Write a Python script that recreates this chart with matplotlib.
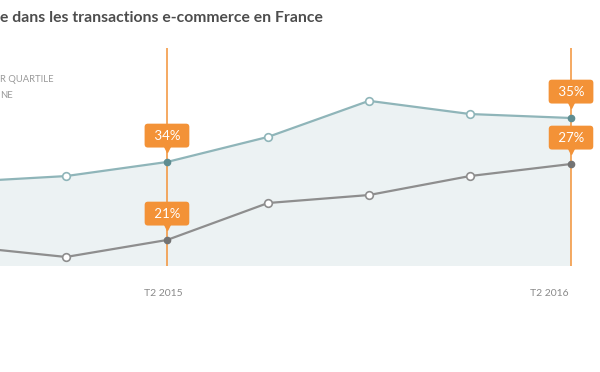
import matplotlib
matplotlib.use("Agg")
import matplotlib.pyplot as plt
from matplotlib.transforms import offset_copy, blended_transform_factory

# ── Data (quarters from T4 2014 to T2 2016, picture is cropped on the left) ──
quarters   = ["T4 2014", "T1 2015", "T2 2015", "T3 2015", "T4 2015", "T1 2016", "T2 2016"]
upper_vals = [33.55, 33.68, 34.0, 34.57, 35.39, 35.09, 35.0]   # 3e quartile
median_vals = [20.49, 19.66, 21.0, 23.92, 24.55, 26.05, 27.0]  # médiane
highlight_idx = [2, 6]
tick_labels = ["T2 2015", "T2 2016"]
upper_labels = ["34%", "35%"]
median_labels = ["21%", "27%"]

# ── Style ────────────────────────────────────────────────────────────────────
ORANGE   = "#f39237"
FILL     = "#ecf2f3"
C_UPPER  = "#8fb5b9"
C_UPPER_D = "#5f8d91"
C_MED    = "#8e8e8e"
C_MED_D  = "#737373"
plt.rcParams["font.family"] = ["Lato", "DejaVu Sans"]

fig = plt.figure(figsize=(6, 3.72), dpi=100)
ax = fig.add_axes([0, 1 - 266 / 372, 1, 218 / 372])
ax2 = ax.twinx()

x = list(range(len(quarters)))
for a in (ax, ax2):
    a.set_xlim(0.347, 6.287)
    a.axis("off")
ax.set_ylim(31.636, 36.591)
ax2.set_ylim(18.947, 36.158)

# area under the upper line
ax.fill_between(x, upper_vals, 31.636, color=FILL, lw=0, zorder=0)

for i in highlight_idx:
    ax.axvline(i, color=ORANGE, lw=1.1, zorder=1)

def draw_series(a, vals, col, col_dark):
    a.plot(x, vals, color=col, lw=1.6, zorder=2)
    plain = [i for i in x if i not in highlight_idx]
    a.plot(plain, [vals[i] for i in plain], "o", ms=5.5, mfc="white",
           mec=col, mew=1.2, zorder=3, ls="none")
    a.plot(highlight_idx, [vals[i] for i in highlight_idx], "o", ms=4.5,
           mfc=col_dark, mec=col_dark, zorder=3, ls="none")

draw_series(ax, upper_vals, C_UPPER, C_UPPER_D)
draw_series(ax2, median_vals, C_MED, C_MED_D)

def tag(a, i, vals, label):
    tr_box = offset_copy(a.transData, fig=fig, x=0, y=19, units="points")
    tr_tri = offset_copy(a.transData, fig=fig, x=0, y=10, units="points")
    a.plot(i, vals[i], marker="v", ms=6, color=ORANGE, transform=tr_tri,
           zorder=4, clip_on=False)
    a.text(i, vals[i], label, transform=tr_box, ha="center", va="center",
           color="white", fontsize=9.5, zorder=5,
           bbox=dict(boxstyle="round,pad=0.45,rounding_size=0.25",
                     fc=ORANGE, ec="none"))

for k, i in enumerate(highlight_idx):
    tag(ax, i, upper_vals, " " + upper_labels[k] + " ")
    tag(ax2, i, median_vals, " " + median_labels[k] + " ")

# x labels below the area
tr = blended_transform_factory(ax.transData, fig.transFigure)
ax.text(highlight_idx[0] - 0.04, 1 - 294 / 372, tick_labels[0], transform=tr,
        ha="center", va="center", fontsize=7.5, color="#8a8a8a")
ax.text(highlight_idx[1] - 0.02, 1 - 294 / 372, tick_labels[1], transform=tr,
        ha="right", va="center", fontsize=7.5, color="#8a8a8a")

# title and legend (cut by the crop)
fig.text(0.0, 1 - 18 / 372, "e dans les transactions e-commerce en France",
         ha="left", va="center", fontsize=11.3, color="#4d4d4d", fontweight="bold")
fig.text(0.0, 1 - 80 / 372, "R QUARTILE", ha="left", va="center",
         fontsize=6.8, color="#9a9a9a")
fig.text(0.0, 1 - 96 / 372, "NE", ha="left", va="center",
         fontsize=6.8, color="#9a9a9a")

fig.savefig("out.png", dpi=100)
